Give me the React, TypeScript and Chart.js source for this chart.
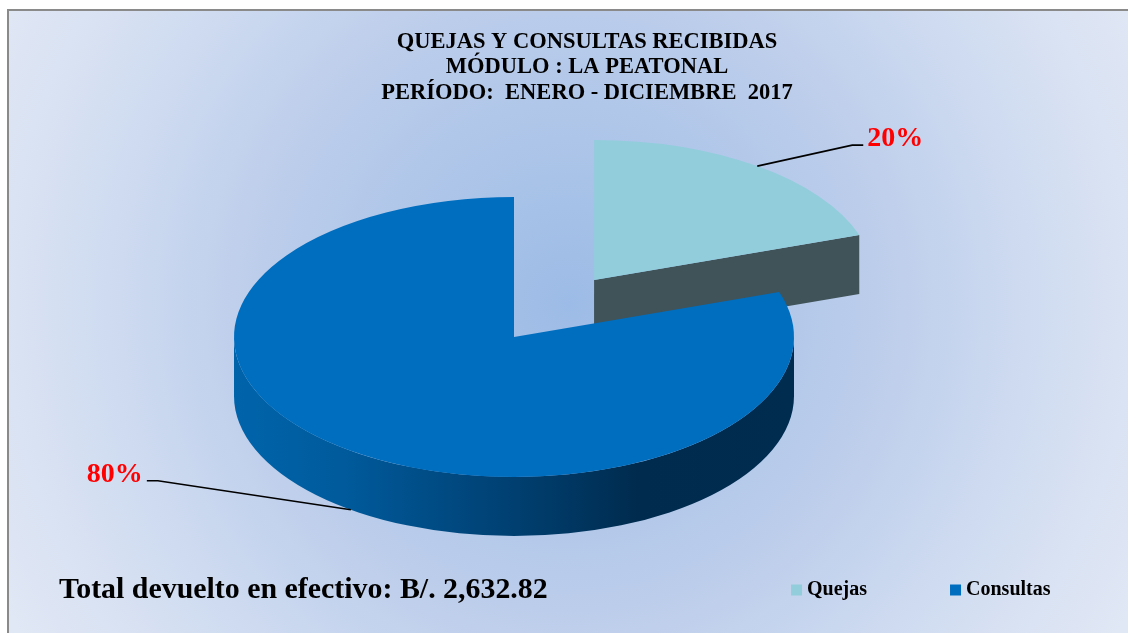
import React, { useEffect, useRef } from "react";
import { Chart, registerables } from "chart.js";

Chart.register(...registerables);

const categories = ["Quejas", "Consultas"];
const values = [19.8, 80.2];
const sliceColors = ["#92CDDC", "#006EBF"];
const wallColor = "#3F5359";
const titleLines = [
  "QUEJAS Y CONSULTAS RECIBIDAS",
  "MÓDULO : LA PEATONAL",
  "PERÍODO:  ENERO - DICIEMBRE  2017",
];
const totalNote = "Total devuelto en efectivo: B/. 2,632.82";

const FONT = '"Liberation Serif", "Times New Roman", serif';
const PIE_CX = 514;
const PIE_CY = 337;
const RADIUS = 280;
const TILT = 0.5;
const DEPTH = 59;
const EXPLODE = 139.5;
const EXPLODE_TRIM = (0.6 * Math.PI) / 180;
const EXPLODED_INDEX = 0;
// Leader-line elbow and label anchor, relative to where the line leaves the slice.
const leaders = [
  { dx: 95, dy: -21, run: 11, labelDx: 110, labelDy: -20, align: "left" },
  { dx: -193, dy: -29, run: -11, labelDx: -208, labelDy: -28, align: "right" },
];

const project = (chart: any, x: number, y: number) => {
  const first = chart.getDatasetMeta(0).data[1];
  return [PIE_CX + (x - first.x), PIE_CY + (y - first.y) * TILT];
};

const explodePlugin = {
  id: "explode",
  afterDatasetsUpdate(chart: any) {
    const arc = chart.getDatasetMeta(0).data[EXPLODED_INDEX];
    const mid = (arc.startAngle + arc.endAngle) / 2 - EXPLODE_TRIM;
    arc.x += Math.cos(mid) * EXPLODE;
    arc.y += Math.sin(mid) * EXPLODE;
  },
};

const pie3dPlugin = {
  id: "pie3d",
  beforeDatasetsDraw(chart: any) {
    const { ctx } = chart;
    const arcs = chart.getDatasetMeta(0).data;
    const q = arcs[EXPLODED_INDEX];
    const c = arcs[1];
    ctx.save();
    // Cut face of the detached slice
    const [qx, qy] = project(chart, q.x, q.y);
    const [ex, ey] = project(
      chart,
      q.x + Math.cos(q.endAngle) * q.outerRadius,
      q.y + Math.sin(q.endAngle) * q.outerRadius
    );
    ctx.fillStyle = wallColor;
    ctx.beginPath();
    ctx.moveTo(qx, qy);
    ctx.lineTo(ex, ey);
    ctx.lineTo(ex, ey + DEPTH);
    ctx.lineTo(qx, qy + DEPTH);
    ctx.closePath();
    ctx.fill();
    // Rim of the main slice
    const [cx, cy] = project(chart, c.x, c.y);
    const rx = c.outerRadius;
    const ry = c.outerRadius * TILT;
    const g = ctx.createLinearGradient(cx - rx, 0, cx + rx, 0);
    g.addColorStop(0, "#0064AB");
    g.addColorStop(0.2, "#005A9B");
    g.addColorStop(0.4, "#00487F");
    g.addColorStop(0.6, "#003762");
    g.addColorStop(0.72, "#002B4E");
    g.addColorStop(1, "#002C50");
    ctx.fillStyle = g;
    ctx.beginPath();
    ctx.ellipse(cx, cy, rx, ry, 0, 0, Math.PI);
    ctx.ellipse(cx, cy + DEPTH, rx, ry, 0, Math.PI, 0, true);
    ctx.closePath();
    ctx.fill();
    ctx.restore();
    // Tops: the library's own arcs, seen through the tilt
    ctx.save();
    ctx.translate(PIE_CX, PIE_CY);
    ctx.scale(1, TILT);
    ctx.translate(-c.x, -c.y);
  },
  afterDatasetsDraw(chart: any) {
    const { ctx } = chart;
    ctx.restore();
    const arcs = chart.getDatasetMeta(0).data;
    const total = values.reduce((a, b) => a + b, 0);
    arcs.forEach((arc: any, i: number) => {
      const mid = (arc.startAngle + arc.endAngle) / 2;
      const [sx, sy0] = project(
        chart,
        arc.x + Math.cos(mid) * arc.outerRadius,
        arc.y + Math.sin(mid) * arc.outerRadius
      );
      const sy = Math.sin(mid) > 0 ? sy0 + DEPTH : sy0;
      const l = leaders[i];
      ctx.save();
      ctx.strokeStyle = "#000000";
      ctx.lineWidth = 1.6;
      ctx.beginPath();
      ctx.moveTo(sx, sy);
      ctx.lineTo(sx + l.dx, sy + l.dy);
      ctx.lineTo(sx + l.dx + l.run, sy + l.dy);
      ctx.stroke();
      ctx.fillStyle = "#FF0000";
      ctx.font = `bold 28px ${FONT}`;
      ctx.textAlign = l.align;
      ctx.textBaseline = "alphabetic";
      ctx.fillText(`${Math.round((values[i] / total) * 100)}%`, sx + l.labelDx, sy + l.labelDy);
      ctx.restore();
    });
    ctx.save();
    ctx.fillStyle = "#000000";
    ctx.font = `bold 29.9px ${FONT}`;
    ctx.textAlign = "left";
    ctx.textBaseline = "alphabetic";
    ctx.fillText(totalNote, 59, 598);
    ctx.restore();
  },
};

export default function App() {
  const ref = useRef<HTMLCanvasElement | null>(null);
  useEffect(() => {
    if (!ref.current) return;
    const chart = new Chart(ref.current, {
      type: "pie",
      data: {
        labels: categories,
        datasets: [
          {
            data: values,
            backgroundColor: sliceColors,
            borderWidth: 0,
            clip: false,
          } as any,
        ],
      },
      options: {
        responsive: false,
        animation: false,
        events: [],
        radius: RADIUS,
        layout: { padding: { left: 35.5, right: -10.5, top: 29, bottom: 23 } },
        plugins: {
          tooltip: { enabled: false },
          title: {
            display: true,
            text: titleLines,
            color: "#000000",
            font: { family: FONT, size: 22.5, weight: "bold", lineHeight: 1.14 },
            padding: 0,
          },
          legend: {
            position: "bottom",
            align: "end",
            labels: {
              color: "#000000",
              font: { family: FONT, size: 20, weight: "bold" },
              usePointStyle: true,
              pointStyle: "rect",
              boxWidth: 1,
              boxHeight: 11,
              padding: 88,
            },
          },
        },
      } as any,
      plugins: [explodePlugin, pie3dPlugin],
    });
    return () => chart.destroy();
  }, []);
  return (
    <div style={{ position: "fixed", inset: 0, overflow: "hidden", background: "#FFFFFF" }}>
      <div
        style={{
          position: "absolute",
          left: 7,
          top: 9,
          right: 0,
          bottom: 0,
          borderLeft: "2px solid #8A8A8A",
          borderTop: "2px solid #8A8A8A",
          background:
            "radial-gradient(circle 640px at 50% 47%, #9CBBE6 0%, #A9C3E8 20%, #BCCDEB 48%, #CDDAF0 70%, #DAE3F3 88%, #E0E7F5 100%)",
        }}
      />
      <canvas
        ref={ref}
        width={1128}
        height={633}
        style={{ position: "absolute", left: 0, top: 0, display: "block" }}
      />
    </div>
  );
}
